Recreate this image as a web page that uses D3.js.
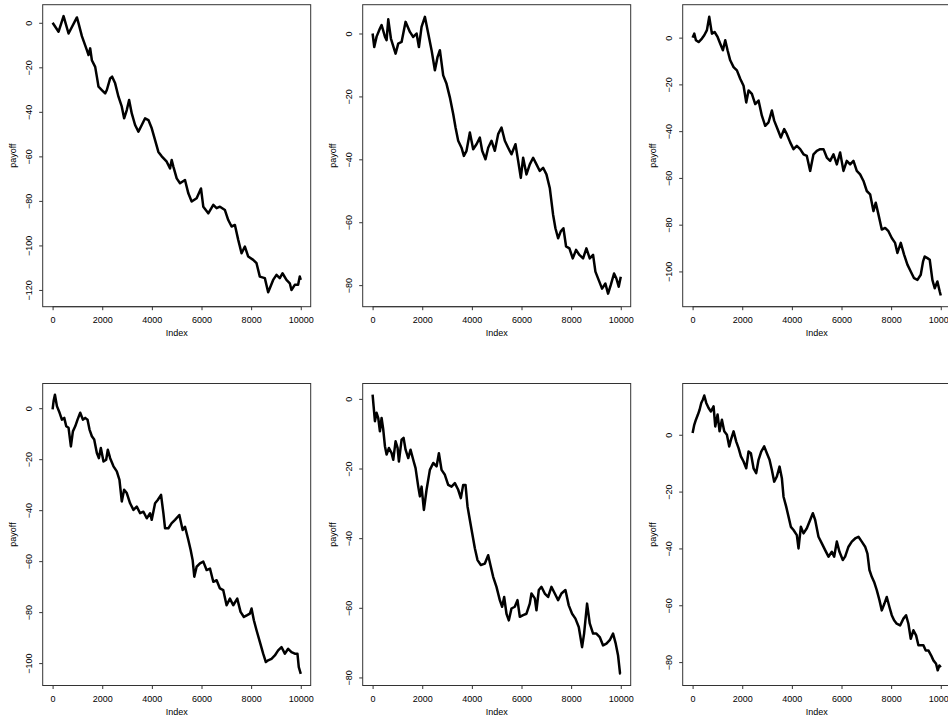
<!DOCTYPE html>
<html>
<head>
<meta charset="utf-8">
<script src="https://cdn.jsdelivr.net/npm/d3@7"></script>
<style>
  body { margin: 0; background: #fff; }
  text { font-family: "Liberation Sans", Arial, sans-serif; font-size: 9px; fill: #000; }
</style>
</head>
<body>
<div id="chart"></div>
<script>
// 数据：各面板随机游走关键点（Index, payoff）
const p1Index  = [0,241,442,643,979,1046,1180,1381,1448,1515,1582,1716,1783,1850,1984,2118,2185,2319,2399,2520,2654,2788,2882,2989,3083,3190,3324,3458,3593,3727,3861,3995,4129,4263,4397,4598,4732,4799,4866,5000,5134,5335,5469,5603,5804,5979,6072,6273,6475,6609,6743,6944,7078,7212,7346,7480,7614,7748,7882,8083,8217,8350,8552,8686,8753,8887,9021,9155,9263,9424,9558,9625,9759,9893,9960,10000];
const p1Payoff = [0,-4,3,-4.8,2.4,-0.3,-6,-12.3,-14.5,-11.5,-16.8,-19.8,-24.2,-28.7,-30.2,-31.7,-30.2,-25,-24.2,-27.2,-33.2,-37.7,-42.9,-39.2,-34.7,-40.7,-45.9,-48.9,-45.9,-42.9,-43.7,-47.4,-52.7,-58,-60,-62.4,-65.4,-61.6,-64.6,-69.9,-72.1,-70.6,-76.6,-80.3,-78.8,-74.4,-82.6,-85.6,-81.8,-83.3,-82.6,-84.1,-88.6,-91.5,-90.8,-97.5,-103.5,-100.5,-105,-106.5,-108,-114,-114.7,-121,-119.2,-115.5,-113.2,-114.7,-112.5,-115.5,-117,-120,-117.7,-117.7,-114,-115.5];

const p2Index  = [0,67,161,295,362,497,564,631,738,926,1033,1168,1329,1503,1637,1772,1866,1973,2107,2242,2376,2510,2617,2711,2845,2979,3113,3248,3342,3449,3583,3677,3784,3919,4053,4187,4321,4415,4549,4657,4791,4925,5059,5194,5328,5462,5596,5757,5865,5972,6066,6200,6334,6469,6603,6737,6871,7005,7139,7273,7367,7475,7582,7689,7796,7930,8065,8199,8333,8481,8615,8750,8884,8978,9112,9246,9380,9488,9595,9729,9823,9917,10000];
const p2Payoff = [0,-4.3,-1,1.6,2.7,-1,-2.1,4.5,-1.6,-6.4,-3.2,-2.7,3.7,0.5,-1.1,0,-4.3,2.1,5.3,0,-5.3,-11.7,-7.5,-5.3,-13.3,-16,-20.3,-25.6,-29.9,-34.1,-36.3,-38.9,-37.3,-31.5,-36.8,-35.2,-33.1,-37.3,-40,-36.3,-34.1,-37.3,-32,-29.9,-34.1,-36.3,-38.4,-35.2,-40.5,-45.9,-39.5,-44.8,-41.6,-39.5,-41.6,-43.7,-42.7,-44.8,-49.1,-57.6,-61.9,-65.1,-62.9,-61.9,-67.7,-68.3,-71.5,-68.8,-70.4,-71.5,-68.3,-71.5,-70.4,-75.7,-78.4,-81.1,-79.5,-82.7,-80,-76.3,-77.9,-80.5,-77.3];

const p3Index  = [0,67,134,242,376,470,577,671,778,886,1007,1114,1221,1315,1409,1516,1651,1785,1919,2053,2161,2255,2389,2523,2657,2791,2926,3060,3194,3288,3422,3556,3691,3798,3932,4066,4200,4335,4469,4603,4737,4871,5006,5140,5274,5408,5542,5677,5811,5945,6079,6213,6348,6482,6616,6750,6885,7019,7153,7287,7381,7488,7623,7757,7891,8025,8159,8253,8388,8522,8656,8790,8924,9059,9193,9287,9354,9461,9555,9662,9756,9864,9958,10000];
const p3Payoff = [0,1.7,-1.1,-1.9,-0.4,1,3.2,8.9,1.7,2.4,0.3,-2.6,-5.4,-1.1,-5.4,-9.7,-12.6,-14,-17.6,-20.6,-27.7,-22.6,-24.1,-28.4,-26.9,-33.4,-37.7,-36.2,-31.2,-35.5,-39.1,-42.7,-39.1,-41.3,-44.8,-47.7,-46.3,-47.7,-49.9,-50.6,-57,-49.9,-48.4,-47.7,-47.7,-51.3,-52.7,-49.9,-54.2,-49.1,-57,-52.7,-54.2,-52.7,-57,-58.5,-61.3,-65.6,-67,-74.2,-70.6,-75.6,-82.1,-81.4,-82.8,-85.7,-87.8,-92.1,-87.8,-92.8,-97.1,-100,-102.9,-103.6,-101.4,-95.7,-93.6,-94.3,-95,-103.6,-107.2,-104.3,-108.6,-110.3];

const p4Index  = [0,40,94,174,282,375,469,550,643,737,818,912,1005,1113,1220,1314,1408,1488,1582,1676,1783,1863,1944,2051,2158,2225,2319,2453,2587,2694,2788,2882,2989,3123,3257,3391,3526,3660,3794,3928,3995,4129,4236,4370,4464,4531,4665,4799,4933,5107,5241,5335,5469,5563,5643,5710,5804,5938,6072,6206,6341,6475,6609,6743,6877,7011,7145,7279,7440,7574,7708,7842,7949,8016,8110,8217,8351,8485,8593,8686,8820,8955,9089,9223,9357,9491,9625,9759,9866,9920,10000];
const p4Payoff = [-0.5,2.8,5.3,0.8,-1.8,-4.5,-3.8,-7.1,-7.7,-15,-9.1,-7.1,-4.5,-1.8,-4.5,-3.8,-4.5,-8.4,-11,-12.3,-17.6,-19.6,-15.6,-20.9,-20.2,-16.3,-19.6,-22.8,-24.8,-28.1,-36.6,-32,-33.3,-37.3,-39.9,-38.6,-41.2,-40.6,-43.2,-41.2,-43.8,-37.3,-36,-34,-41.2,-47.1,-47.1,-45.1,-43.8,-41.9,-47.8,-46.5,-51.7,-55.6,-59.6,-66.1,-62.2,-60.9,-60.2,-63.5,-62.9,-68.1,-67.5,-70.7,-71.4,-77.3,-74.7,-77.3,-74.7,-79.9,-81.9,-81.2,-80.6,-78.6,-83.2,-87.1,-91.7,-96.3,-99.6,-98.9,-98.3,-97,-95,-93.7,-96.3,-94.4,-95.7,-96.3,-96.3,-101.6,-104.2];

const p5Index  = [0,40,94,161,228,295,362,429,497,564,658,765,832,926,1007,1060,1168,1248,1329,1436,1530,1637,1731,1839,1906,1973,2067,2174,2308,2443,2577,2671,2778,2912,3046,3181,3315,3449,3556,3650,3744,3825,3919,4013,4120,4227,4362,4523,4657,4764,4858,4992,5126,5220,5301,5395,5489,5596,5730,5838,5932,6066,6200,6334,6401,6536,6603,6697,6804,6938,7072,7206,7341,7475,7609,7770,7904,8039,8173,8307,8441,8522,8642,8750,8884,9018,9152,9287,9421,9555,9689,9797,9891,9971,10000];
const p5Payoff = [1.2,-2.1,-6.4,-4,-5.5,-9.3,-5.5,-8.8,-13.6,-16,-14.1,-15.6,-17.5,-12.2,-14.1,-18,-11.7,-11.2,-14.6,-17,-14.6,-17.5,-19.9,-25.2,-28,-25.2,-31.9,-26.1,-20.4,-18.4,-19.4,-15.6,-20.4,-21.8,-24.7,-25.2,-24.2,-26.1,-28.5,-24.7,-24.7,-30.9,-34.8,-38.6,-42.9,-46.3,-47.7,-47.3,-44.9,-48.2,-51.1,-54,-57.8,-59.7,-56.9,-61.7,-63.6,-60.2,-59.7,-57.8,-62.6,-62.1,-61.7,-58.8,-55.9,-57.3,-60.7,-54.9,-54,-55.9,-56.9,-54,-55.9,-57.8,-55.9,-54.9,-59.3,-61.7,-63.1,-65.5,-71.3,-67.4,-58.8,-64.5,-67.4,-67.4,-68.4,-70.8,-70.3,-69.3,-67.4,-70.3,-73.7,-78.9,-79];

const p6Index  = [0,67,134,215,282,349,416,470,550,644,738,845,913,1007,1087,1181,1275,1382,1476,1543,1651,1758,1852,1946,2053,2161,2255,2349,2456,2563,2657,2765,2885,2993,3100,3194,3288,3395,3503,3597,3664,3771,3865,3959,4066,4200,4268,4362,4469,4603,4737,4845,4939,5073,5207,5341,5475,5610,5704,5811,5918,6052,6146,6281,6415,6549,6683,6817,6952,7045,7126,7220,7314,7421,7529,7623,7730,7824,7931,8025,8119,8226,8361,8495,8602,8696,8790,8897,9005,9099,9193,9300,9394,9501,9609,9703,9810,9877,9944,10000];
const p6Payoff = [0.6,3.5,5.3,7.1,8.8,11.2,12.4,13.8,11.2,9.4,8.2,10,2.9,7.1,1.2,5.3,1.2,0,-4.1,-1.8,1.2,-2.4,-4.7,-7.6,-9.4,-11.8,-5.9,-6.5,-11.8,-13.5,-8.8,-5.9,-4.1,-6.5,-8.8,-12.4,-16.5,-14.7,-11.2,-15.3,-21.8,-25.3,-28.8,-32.4,-33.5,-35.3,-40,-32.4,-34.7,-32.9,-30,-27.6,-30,-35.9,-38.2,-40.6,-42.9,-41.2,-42.9,-37.6,-41.2,-44.1,-42.9,-39.4,-37.6,-36.5,-35.9,-37.6,-39.4,-41.8,-47.6,-50,-51.8,-54.7,-58.2,-61.8,-59.4,-57.1,-60.6,-63.5,-65.3,-66.5,-67.1,-64.7,-63.5,-66.5,-71.8,-68.8,-70.6,-74.1,-74.1,-74.1,-75.9,-75.9,-77.6,-79.4,-80.6,-82.9,-81.2,-81.8];

// 各面板 payoff 的取值范围（最小, 最大）
const p1Lim = [-122.5, 3.1];
const p2Lim = [-83.3, 5.6];
const p3Lim = [-110.3, 9.3];
const p4Lim = [-104.4, 5.3];
const p5Lim = [-79.1, 1.2];
const p6Lim = [-84.3, 14.1];

// 刻度
const xTicks  = [0, 2000, 4000, 6000, 8000, 10000];
const p1Ticks = [0, -20, -40, -60, -80, -100, -120];
const p2Ticks = [0, -20, -40, -60, -80];
const p3Ticks = [0, -20, -40, -60, -80, -100];
const p4Ticks = [0, -20, -40, -60, -80, -100];
const p5Ticks = [0, -20, -40, -60, -80];
const p6Ticks = [0, -20, -40, -60, -80];

const width = 948;
const height = 721;
const plotW = 268, plotH = 302;
const colLeft = [42.7, 362.7, 682.7];
const rowTop = [4.7, 383.5];

let svg = d3.select("#chart")
    .append("svg")
    .attr("width", width)
    .attr("height", height);

svg.append("rect").attr("width", width).attr("height", height).attr("fill", "#fff");

const panels = [
    { idx: p1Index, val: p1Payoff, lim: p1Lim, ticks: p1Ticks },
    { idx: p2Index, val: p2Payoff, lim: p2Lim, ticks: p2Ticks },
    { idx: p3Index, val: p3Payoff, lim: p3Lim, ticks: p3Ticks },
    { idx: p4Index, val: p4Payoff, lim: p4Lim, ticks: p4Ticks },
    { idx: p5Index, val: p5Payoff, lim: p5Lim, ticks: p5Ticks },
    { idx: p6Index, val: p6Payoff, lim: p6Lim, ticks: p6Ticks }
];

panels.forEach(function (p, i) {
    const left = colLeft[i % 3];
    const top = rowTop[Math.floor(i / 3)];

    // R 风格：坐标范围两端各扩展 4%
    const x = d3.scaleLinear()
        .domain([1 - 0.04 * 9999, 10000 + 0.04 * 9999])
        .range([left, left + plotW]);
    const r = p.lim[1] - p.lim[0];
    const y = d3.scaleLinear()
        .domain([p.lim[0] - 0.04 * r, p.lim[1] + 0.04 * r])
        .range([top + plotH, top]);

    const pts = p.idx.map(function (d, k) { return [d, p.val[k]]; });

    const line = d3.line()
        .x(function (d) { return x(d[0]); })
        .y(function (d) { return y(d[1]); });

    svg.append("path")
        .datum(pts)
        .attr("d", line)
        .attr("fill", "none")
        .attr("stroke", "#000")
        .attr("stroke-width", 2.5)
        .attr("stroke-linejoin", "round");

    // x 轴
    const gx = svg.append("g")
        .attr("transform", "translate(0," + (top + plotH) + ")")
        .call(d3.axisBottom(x).tickValues(xTicks).tickSize(3.5).tickPadding(6.5).tickFormat(d3.format("d")));
    gx.select(".domain").remove();
    gx.selectAll("line").attr("stroke", "#333");
    gx.selectAll("text").style("font-size", "9px").attr("fill", "#000");
    svg.append("line")
        .attr("x1", x(xTicks[0])).attr("x2", x(xTicks[xTicks.length - 1]))
        .attr("y1", top + plotH).attr("y2", top + plotH)
        .attr("stroke", "#333");

    // y 轴（刻度标签旋转）
    const gy = svg.append("g")
        .attr("transform", "translate(" + left + ",0)")
        .call(d3.axisLeft(y).tickValues(p.ticks).tickSize(3.5).tickFormat(d3.format("d")));
    gy.select(".domain").remove();
    gy.selectAll("line").attr("stroke", "#333");
    gy.selectAll("text")
        .attr("x", null)
        .attr("dy", "0.35em")
        .attr("text-anchor", "middle")
        .attr("transform", "translate(-13.4,0) rotate(-90)")
        .style("font-size", "9px")
        .attr("fill", "#000");

    // 边框
    svg.append("rect")
        .attr("x", left).attr("y", top)
        .attr("width", plotW).attr("height", plotH)
        .attr("fill", "none")
        .attr("stroke", "#333")
        .attr("stroke-width", 1);

    // 轴标题
    svg.append("text")
        .attr("x", left + plotW / 2)
        .attr("y", top + plotH + 26)
        .attr("dy", "0.35em")
        .attr("text-anchor", "middle")
        .text("Index");

    svg.append("text")
        .attr("transform", "translate(" + (left - 29.4) + "," + (top + plotH / 2) + ") rotate(-90)")
        .attr("dy", "0.35em")
        .attr("text-anchor", "middle")
        .text("payoff");
});
</script>
</body>
</html>
